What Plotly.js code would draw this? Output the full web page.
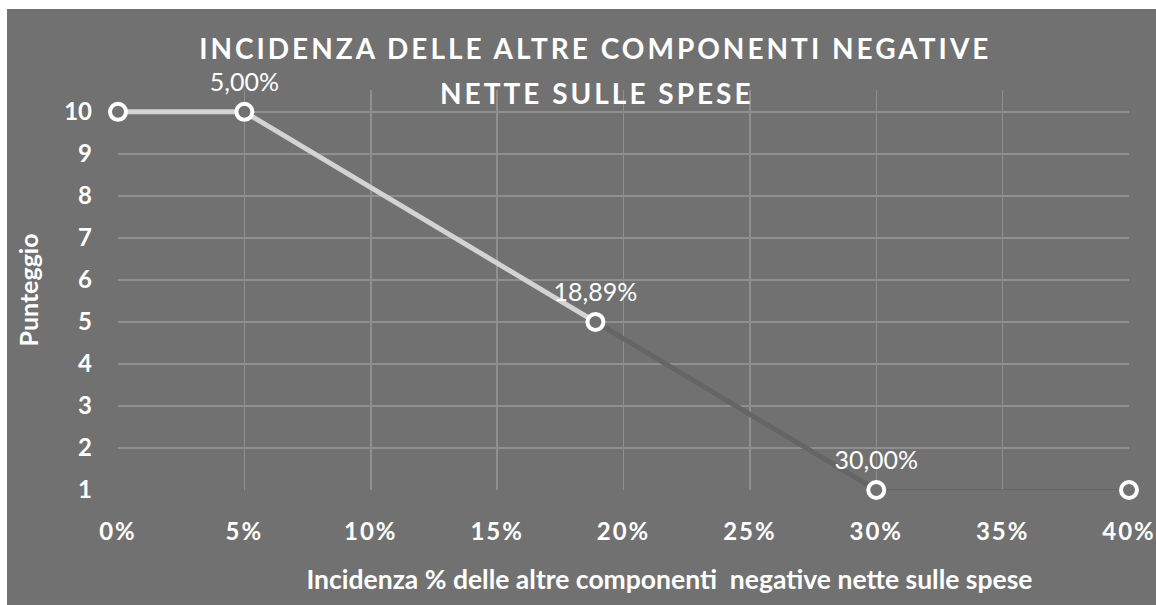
<!DOCTYPE html>
<html>
<head>
<meta charset="utf-8">
<script src="https://cdn.plot.ly/plotly-3.0.1.min.js"></script>
<style>
html,body{margin:0;padding:0;background:#ffffff;width:1156px;height:605px;overflow:hidden;}
#chart{position:absolute;left:7px;top:9px;width:1149px;height:596px;}
.gtitle, .annotation-text{letter-spacing:3px;}
.xtick text{letter-spacing:2px;}
.xtitle{transform:translateX(46px);}
</style>
</head>
<body>
<div id="chart"></div>
<script>
// Data
var incidenza = [0, 0.05, 0.1889, 0.30, 0.40];
var punteggio = [10, 10, 5, 1, 1];
var etichette = ["", "5,00%", "18,89%", "30,00%", ""];
var xTickVals = [0, 0.05, 0.10, 0.15, 0.20, 0.25, 0.30, 0.35, 0.40];
var xTickText = ["0%", "5%", "10%", "15%", "20%", "25%", "30%", "35%", "40%"];
var yTickVals = [1, 2, 3, 4, 5, 6, 7, 8, 9, 10];
var titolo1 = "INCIDENZA DELLE ALTRE COMPONENTI NEGATIVE";
var titolo2 = "NETTE SULLE SPESE";

var FONT = "Lato, 'Open Sans', sans-serif";
var BG = "#717171";

var traces = [
  {x: incidenza.slice(0, 3), y: punteggio.slice(0, 3), mode: "lines",
   line: {color: "#d3d3d3", width: 5}, hoverinfo: "skip"},
  {x: incidenza.slice(2, 4), y: punteggio.slice(2, 4), mode: "lines",
   line: {color: "#656565", width: 5}, hoverinfo: "skip"},
  {x: incidenza.slice(3, 5), y: punteggio.slice(3, 5), mode: "lines",
   line: {color: "#666666", width: 2}, hoverinfo: "skip"},
  {x: incidenza, y: punteggio, mode: "markers",
   marker: {size: 16, color: BG, line: {color: "#ffffff", width: 4}},
   cliponaxis: false},
  {x: incidenza, y: punteggio, mode: "markers+text", text: etichette,
   textposition: "top center",
   textfont: {family: FONT, size: 25, color: "#ffffff"},
   marker: {size: 22, color: "rgba(0,0,0,0)"},
   cliponaxis: false}
];

var layout = {
  width: 1149, height: 596,
  paper_bgcolor: BG, plot_bgcolor: BG,
  showlegend: false,
  margin: {l: 111, r: 27, t: 81, b: 115},
  title: {
    text: "<b>" + titolo1 + "</b>",
    font: {family: FONT, size: 28, color: "#ffffff"},
    x: 0.512, xanchor: "center", y: 0.933, yanchor: "middle"
  },
  annotations: [
    {text: "<b>" + titolo2 + "</b>", xref: "paper", yref: "paper",
     x: 0.474, y: 0.9925, xanchor: "center", yanchor: "middle", showarrow: false,
     font: {family: FONT, size: 28, color: "#ffffff"}}
  ],
  xaxis: {
    range: [0, 0.40], tickvals: xTickVals, ticktext: xTickText,
    showgrid: true, gridcolor: "#8f8f8f", gridwidth: 1.5,
    zeroline: false, showline: false, ticks: "",
    ticklabelstandoff: 25,
    tickfont: {family: FONT, size: 24, color: "#ffffff", weight: "bold"},
    title: {text: "<b>Incidenza % delle altre componenti  negative nette sulle spese</b>",
            font: {family: FONT, size: 26.5, color: "#ffffff"}, standoff: 26}
  },
  yaxis: {
    range: [1, 10.52], tickvals: yTickVals,
    showgrid: true, gridcolor: "#8f8f8f", gridwidth: 1.5,
    zeroline: false, showline: false, ticks: "",
    ticklabelstandoff: 25,
    tickfont: {family: FONT, size: 24, color: "#ffffff", weight: "bold"},
    title: {text: "<b>Punteggio</b>", font: {family: FONT, size: 25, color: "#ffffff"}, standoff: 18}
  }
};

Plotly.newPlot("chart", traces, layout, {staticPlot: true, displayModeBar: false});
</script>
</body>
</html>
